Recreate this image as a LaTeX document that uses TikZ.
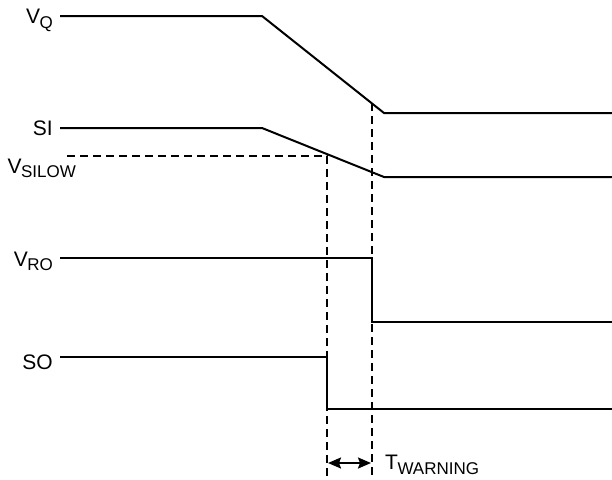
\documentclass[tikz,border=0pt]{standalone}
\usepackage{fontspec}
\setmainfont{Liberation Sans}
\usetikzlibrary{arrows.meta}
\newcommand{\lowsub}[1]{\kern-0.5pt\raisebox{-4.5pt}{\fontsize{17}{17}\selectfont #1}}
\begin{document}
\begin{tikzpicture}[x=1pt,y=-1pt,
  sig/.style={line width=2pt, line join=miter},
  guide/.style={line width=2pt, dash pattern=on 8pt off 5pt},
  lbl/.style={anchor=base east, inner sep=0pt, font=\fontsize{21}{23}\selectfont},
  meas/.style={line width=2pt, {Stealth[length=13pt,width=11pt,inset=2pt]}-{Stealth[length=13pt,width=11pt,inset=2pt]}}]
\useasboundingbox (0,0) rectangle (612,479);
% labels
\node[lbl] (lq) at (53,23.5) {V\lowsub{Q}};
\node[lbl] (lsi) at (53,135.5) {SI};
\node[lbl] (lsl) at (76,173) {V\lowsub{SILOW}};
\node[lbl] (lro) at (53,266) {V\lowsub{RO}};
\node[lbl] (lso) at (53,369) {SO};
\node[anchor=base west, inner sep=0pt, font=\fontsize{21}{23}\selectfont] (tw) at (385,469.5) {T\lowsub{WARNING}};
% coordinates
\coordinate (q0) at (60,16);
\coordinate (q1) at (262,16);
\coordinate (q2) at (384,113);
\coordinate (q3) at (612,113);
\coordinate (s0) at (60,128);
\coordinate (s1) at (262,128);
\coordinate (s2) at (384,177);
\coordinate (s3) at (612,177);
\coordinate (r0) at (60,258);
\coordinate (r1) at (372,258);
\coordinate (r2) at (372,322);
\coordinate (r3) at (612,322);
\coordinate (o0) at (60,357);
\coordinate (o1) at (327,357);
\coordinate (o2) at (327,409);
\coordinate (o3) at (612,409);
\coordinate (d0) at (67,156);
\coordinate (d1) at (327,156);
\coordinate (d2) at (327,479);
\coordinate (e1) at (372,103);
\coordinate (e2) at (372,479);
\coordinate (a1) at (328,463);
\coordinate (a2) at (371,463);
% guides
\draw[guide] (d0) -- (d1) -- (d2);
\draw[guide] (e1) -- (e2);
% signals
\draw[sig] (q0) -- (q1) -- (q2) -- (q3);
\draw[sig] (s0) -- (s1) -- (s2) -- (s3);
\draw[sig] (r0) -- (r1) -- (r2) -- (r3);
\draw[sig] (o0) -- (o1) -- (o2) -- (o3);
% measurement
\draw[meas] (a1) -- (a2);
\end{tikzpicture}
\end{document}
